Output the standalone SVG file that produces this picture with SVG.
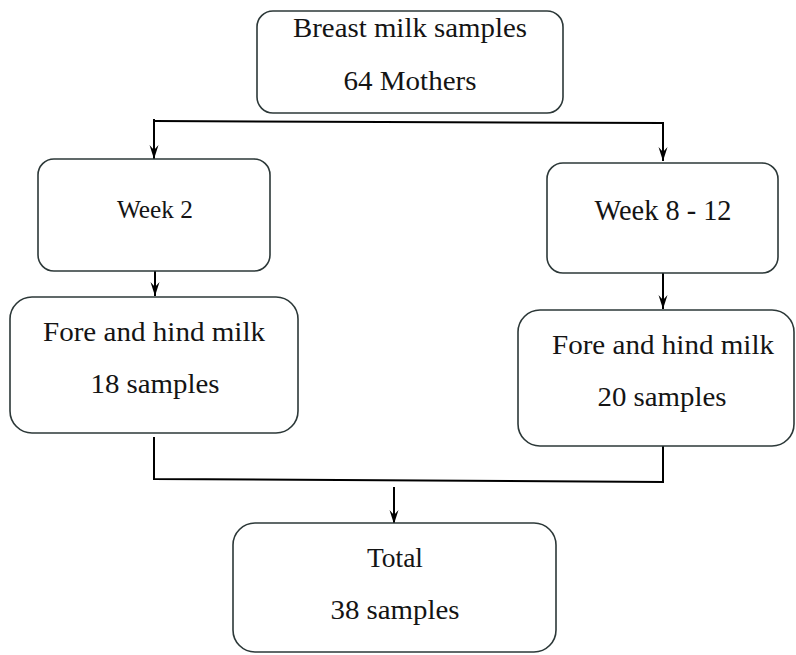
<svg xmlns="http://www.w3.org/2000/svg" width="796" height="655" viewBox="0 0 796 655">
<defs>
<style>
.box{fill:#ffffff;stroke:#2c3838;stroke-width:1.6}
.t{font-family:"Liberation Serif","Times New Roman",serif;fill:#141414;text-anchor:middle}
.c{fill:none;stroke:#000;stroke-width:2}
</style>
<marker id="ah" markerUnits="userSpaceOnUse" viewBox="-15 -6 16 12" refX="0" refY="0" markerWidth="16" markerHeight="12" orient="auto">
<path d="M0,0 L-14,-4.5 L-9,0 L-14,4.5 Z" fill="#000"/>
</marker>
</defs>
<rect width="796" height="655" fill="#ffffff"/>
<g id="connectors">
<polyline class="c" points="154,121 663,123 663,161" marker-end="url(#ah)"/>
<line class="c" x1="154" y1="119" x2="154" y2="159" marker-end="url(#ah)"/>
<line class="c" x1="155" y1="271" x2="155" y2="296" marker-end="url(#ah)"/>
<line class="c" x1="663" y1="273" x2="663" y2="309" marker-end="url(#ah)"/>
<polyline class="c" points="154,437 154,479 663,482 663,443"/>
<line class="c" x1="394" y1="487" x2="394" y2="524" marker-end="url(#ah)"/>
</g>
<g id="node-start">
<rect class="box" x="257" y="11" width="306" height="102" rx="16"/>
<text class="t" x="410" y="37" font-size="28" textLength="234" lengthAdjust="spacingAndGlyphs">Breast milk samples</text>
<text class="t" x="410" y="90" font-size="28" textLength="133" lengthAdjust="spacingAndGlyphs">64 Mothers</text>
</g>
<g id="node-week2">
<rect class="box" x="38" y="159" width="232" height="112" rx="16"/>
<text class="t" x="155" y="218" font-size="25" textLength="76" lengthAdjust="spacingAndGlyphs">Week 2</text>
</g>
<g id="node-week8">
<rect class="box" x="547" y="163" width="231" height="110" rx="16"/>
<text class="t" x="663" y="220" font-size="29" textLength="137" lengthAdjust="spacingAndGlyphs">Week 8 - 12</text>
</g>
<g id="node-fore-left">
<rect class="box" x="10" y="297" width="288" height="136" rx="22"/>
<text class="t" x="154" y="341" font-size="28" textLength="222" lengthAdjust="spacingAndGlyphs">Fore and hind milk</text>
<text class="t" x="155" y="393" font-size="28" textLength="129" lengthAdjust="spacingAndGlyphs">18 samples</text>
</g>
<g id="node-fore-right">
<rect class="box" x="518" y="310" width="276" height="136" rx="22"/>
<text class="t" x="663" y="354" font-size="28" textLength="222" lengthAdjust="spacingAndGlyphs">Fore and hind milk</text>
<text class="t" x="662" y="406" font-size="28" textLength="129" lengthAdjust="spacingAndGlyphs">20 samples</text>
</g>
<g id="node-total">
<rect class="box" x="233" y="523" width="323" height="129" rx="22"/>
<text class="t" x="395" y="567" font-size="28" textLength="56" lengthAdjust="spacingAndGlyphs">Total</text>
<text class="t" x="395" y="619" font-size="28" textLength="129" lengthAdjust="spacingAndGlyphs">38 samples</text>
</g>
</svg>
